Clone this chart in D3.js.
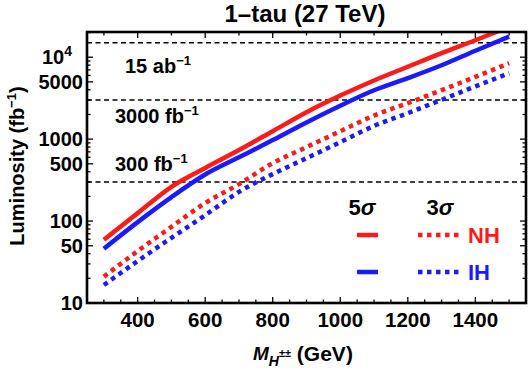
<!DOCTYPE html>
<meta charset="utf-8" />
<script src="https://d3js.org/d3.v7.min.js"></script>
<style>
  body { margin: 0; background: #fff; }
  text { font-family: "Liberation Sans", Arial, sans-serif; font-weight: bold; }
</style>
<div id="chart"></div>
<script>
  // masses (GeV) and required luminosities (fb^-1)
  var masses = [300, 400, 500, 600, 700, 800, 900, 1000, 1100, 1200, 1300, 1400, 1500];
  var nh5 = [59, 125, 262, 445, 735, 1250, 2130, 3400, 5200, 7640, 11200, 16100, 23500];
  var ih5 = [46, 97, 196, 370, 600, 973, 1600, 2560, 3950, 5550, 7970, 12000, 17800];
  var nh3 = [21, 43, 85, 166, 282, 509, 798, 1250, 1940, 2750, 3960, 5750, 8450];
  var ih3 = [16.6, 32.5, 62.5, 118, 227, 374, 586, 918, 1450, 2075, 3020, 4400, 6380];

  var refLines = [15000, 3000, 300];
  var refLabels = ["15 ab", "3000 fb", "300 fb"];
  var xTickVals = [400, 600, 800, 1000, 1200, 1400];
  var yTickVals = [10, 50, 100, 500, 1000, 5000, 10000];

  var width = 532, height = 369;
  var pLeft = 87, pRight = 526, pTop = 32, pBottom = 303;

  var svg = d3.select("#chart").append("svg")
    .attr("width", width)
    .attr("height", height);

  var x = d3.scaleLinear().domain([250, 1550]).range([pLeft, pRight]);
  var y = d3.scaleLog().domain([10, 20300]).range([pBottom, pTop]);

  svg.append("defs").append("clipPath").attr("id", "clip")
    .append("rect")
    .attr("x", pLeft).attr("y", pTop)
    .attr("width", pRight - pLeft).attr("height", pBottom - pTop);

  // reference luminosity lines
  svg.append("g").selectAll("line")
    .data(refLines)
    .enter()
    .append("line")
    .attr("x1", pLeft).attr("x2", pRight)
    .attr("y1", function(d) { return y(d); })
    .attr("y2", function(d) { return y(d); })
    .attr("stroke", "#000")
    .attr("stroke-width", 1.6)
    .attr("stroke-dasharray", "5,3.5");

  var refPos = [[125, 73], [115, 123], [115, 171]];
  refLabels.forEach(function(t, i) {
    var tx = svg.append("text")
      .attr("x", refPos[i][0])
      .attr("y", refPos[i][1])
      .style("font-size", "20px")
      .text(t);
    tx.append("tspan").attr("dy", -8).style("font-size", "13px").text("\u22121");
  });

  // curves
  var series = [
    { v: nh5, color: "#ff1a1a", dash: null },
    { v: ih5, color: "#1a1aff", dash: null },
    { v: nh3, color: "#ff1a1a", dash: "4.5,4.5" },
    { v: ih3, color: "#1a1aff", dash: "4.5,4.5" }
  ];
  var line = d3.line()
    .curve(d3.curveMonotoneX)
    .x(function(d) { return x(d[0]); })
    .y(function(d) { return y(d[1]); });

  var curves = svg.append("g").attr("clip-path", "url(#clip)");
  series.forEach(function(s) {
    curves.append("path")
      .datum(masses.map(function(m, i) { return [m, s.v[i]]; }))
      .attr("d", line)
      .attr("fill", "none")
      .attr("stroke", s.color)
      .attr("stroke-width", 4.5)
      .attr("stroke-dasharray", s.dash);
  });

  // frame ticks
  var ticks = svg.append("g").attr("stroke", "#000").attr("stroke-width", 1.3);
  d3.range(250, 1551, 50).forEach(function(m) {
    var major = m % 200 === 0;
    ticks.append("line")
      .attr("x1", x(m)).attr("x2", x(m))
      .attr("y1", pBottom).attr("y2", pBottom - (major ? 6 : 3.5));
  });
  d3.range(300, 1551, 100).forEach(function(m) {
    var major = m % 200 === 0;
    ticks.append("line")
      .attr("x1", x(m)).attr("x2", x(m))
      .attr("y1", pTop).attr("y2", pTop + (major ? 6 : 3.5));
  });
  var minorY = [];
  [10, 100, 1000, 10000].forEach(function(dec) {
    for (var k = 1; k < 10; k++) if (dec * k <= 20000) minorY.push(dec * k);
  });
  minorY.forEach(function(v) {
    var major = yTickVals.indexOf(v) >= 0;
    var len = major ? 6 : 3.5;
    ticks.append("line")
      .attr("x1", pLeft).attr("x2", pLeft + len)
      .attr("y1", y(v)).attr("y2", y(v));
    ticks.append("line")
      .attr("x1", pRight).attr("x2", pRight - len)
      .attr("y1", y(v)).attr("y2", y(v));
  });

  // frame
  svg.append("rect")
    .attr("x", pLeft).attr("y", pTop)
    .attr("width", pRight - pLeft).attr("height", pBottom - pTop)
    .attr("fill", "none")
    .attr("stroke", "#000")
    .attr("stroke-width", 2.6);

  // tick labels
  svg.append("g").selectAll("text")
    .data(xTickVals)
    .enter()
    .append("text")
    .attr("x", function(d) { return x(d); })
    .attr("y", 327)
    .attr("text-anchor", "middle")
    .style("font-size", "20.5px")
    .text(function(d) { return d; });

  var yl = svg.append("g").selectAll("text")
    .data(yTickVals)
    .enter()
    .append("text")
    .attr("x", 83)
    .attr("y", function(d) { return y(d) + 7; })
    .attr("text-anchor", "end")
    .style("font-size", "20px")
    .text(function(d) { return d === 10000 ? "10" : d; });
  yl.filter(function(d) { return d === 10000; })
    .attr("x", 72)
    .append("tspan").attr("dy", -8).style("font-size", "14px").text("4");

  // title
  svg.append("text")
    .attr("x", 305).attr("y", 22)
    .attr("text-anchor", "middle")
    .style("font-size", "24px")
    .text("1\u2013tau (27 TeV)");

  // axis titles
  var yt = svg.append("text")
    .attr("transform", "translate(24,166) rotate(-90)")
    .attr("text-anchor", "middle")
    .style("font-size", "20px")
    .text("Luminosity (fb");
  yt.append("tspan").attr("dy", -8).style("font-size", "13px").text("\u22121");
  yt.append("tspan").attr("dy", 8).text(")");

  var xt = svg.append("text")
    .attr("x", 253).attr("y", 360)
    .style("font-size", "19px");
  xt.append("tspan").style("font-style", "italic").text("M");
  xt.append("tspan").attr("dy", 6).style("font-style", "italic").style("font-size", "14px").text("H");
  xt.append("tspan").attr("dy", -9).style("font-size", "11px").text("\u00b1\u00b1");
  xt.append("tspan").attr("dy", 4).style("font-size", "21px").text(" (GeV)");

  // legend
  var legend = svg.append("g");
  [["5", 362], ["3", 440]].forEach(function(p) {
    var t = legend.append("text")
      .attr("x", p[1]).attr("y", 215)
      .attr("text-anchor", "middle")
      .style("font-size", "22px")
      .text(p[0]);
    t.append("tspan").style("font-style", "italic").text("\u03c3");
  });
  var legRows = [
    { name: "NH", color: "#ff1a1a", yy: 235 },
    { name: "IH", color: "#1a1aff", yy: 272 }
  ];
  legRows.forEach(function(r) {
    legend.append("line")
      .attr("x1", 357).attr("x2", 378)
      .attr("y1", r.yy).attr("y2", r.yy)
      .attr("stroke", r.color).attr("stroke-width", 4.5);
    legend.append("line")
      .attr("x1", 418).attr("x2", 462)
      .attr("y1", r.yy).attr("y2", r.yy)
      .attr("stroke", r.color).attr("stroke-width", 4.5)
      .attr("stroke-dasharray", "4.5,4.5");
    legend.append("text")
      .attr("x", 468).attr("y", r.yy + 8)
      .attr("fill", r.color)
      .style("font-size", "22px")
      .text(r.name);
  });
</script>
